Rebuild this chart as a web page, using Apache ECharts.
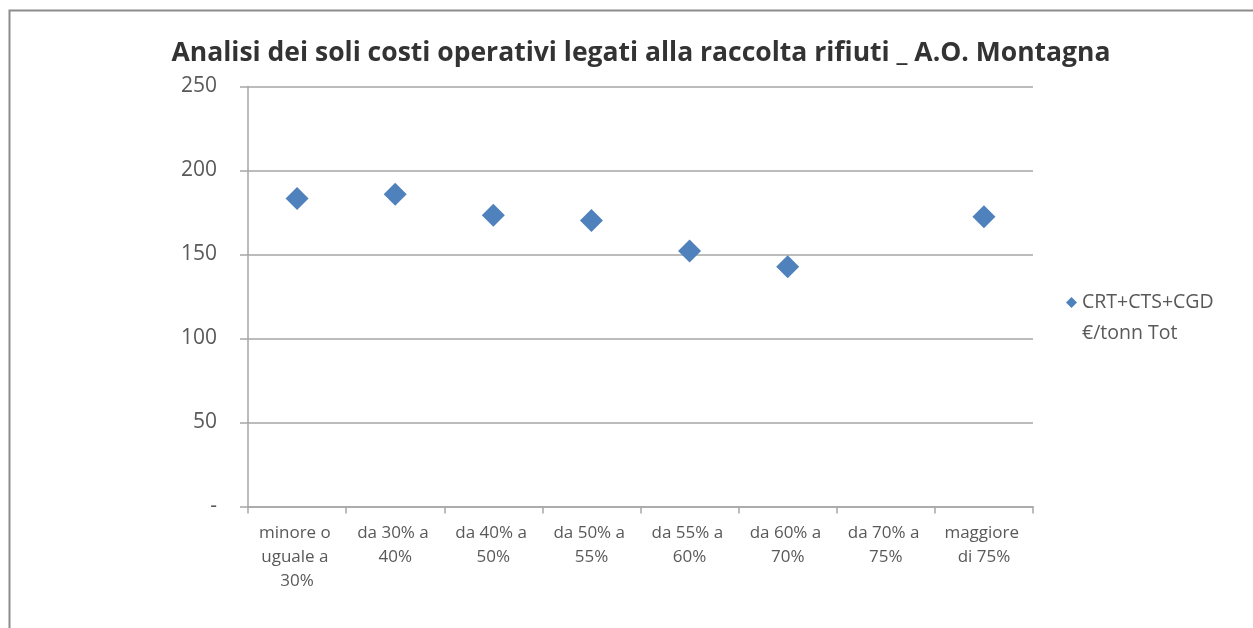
<!DOCTYPE html>
<html>
<head>
<meta charset="utf-8">
<script src="https://cdn.jsdelivr.net/npm/echarts@6/dist/echarts.min.js"></script>
<style>html,body{margin:0;padding:0;background:#fff}#c{width:1253px;height:628px}</style>
</head>
<body>
<div id="c"></div>
<script>
const titleText = 'Analisi dei soli costi operativi legati alla raccolta rifiuti _ A.O. Montagna';
const categories = ['minore o uguale a 30%', 'da 30% a 40%', 'da 40% a 50%', 'da 50% a 55%', 'da 55% a 60%', 'da 60% a 70%', 'da 70% a 75%', 'maggiore di 75%'];
const seriesName = 'CRT+CTS+CGD €/tonn Tot';
const values = [183.4, 185.8, 173.3, 170.3, 152.1, 142.7, null, 172.5];
const yTicks = [0, 50, 100, 150, 200, 250];

const font = '"Open Sans", "Noto Sans", sans-serif';
const chart = echarts.init(document.getElementById('c'));
chart.setOption({
  animation: false,
  backgroundColor: '#fff',
  title: {
    text: titleText,
    left: 636, top: 35, textAlign: 'center',
    textStyle: { fontFamily: font, fontSize: 26.5, fontWeight: 'bold', color: '#333333' }
  },
  graphic: [
    { type: 'polyline', shape: { points: [[9.5, 628], [9.5, 10.5], [1253, 10.5]] }, style: { stroke: '#8c8c8c', lineWidth: 2, fill: null } }
  ],
  legend: {
    orient: 'vertical', left: 1061, top: 251,
    icon: 'diamond', itemWidth: 11, itemHeight: 11, itemGap: 4,
    data: [seriesName],
    formatter: n => '\n' + n.replace(' €', '\n€'),
    textStyle: { fontFamily: font, fontSize: 19.5, color: '#595959', lineHeight: 31 }
  },
  grid: { left: 248, right: 220, top: 86.5, bottom: 121.5, containLabel: false },
  xAxis: {
    type: 'category', data: categories, boundaryGap: true,
    axisLine: { lineStyle: { color: '#a6a6a6', width: 1.5 } },
    axisTick: { show: true, length: 7, inside: false, lineStyle: { color: '#a6a6a6', width: 1.5 }, alignWithLabel: false },
    axisLabel: { interval: 0, margin: 15, fontFamily: font, fontSize: 17, color: '#595959', lineHeight: 24, width: 88, overflow: 'break', align: 'center' },
    splitLine: { show: false }
  },
  yAxis: {
    type: 'value', min: yTicks[0], max: yTicks[yTicks.length - 1], interval: 50,
    axisLine: { show: true, lineStyle: { color: '#a6a6a6', width: 1.5 } },
    axisTick: { show: true, length: 8, lineStyle: { color: '#a6a6a6', width: 1.5 } },
    axisLabel: { margin: 31, fontFamily: font, fontSize: 21, color: '#595959', formatter: v => v === 0 ? '-' : String(v) },
    splitLine: { show: true, lineStyle: { color: '#a6a6a6', width: 1.5 } }
  },
  series: [{
    name: seriesName, type: 'scatter', data: values,
    symbol: 'diamond', symbolSize: 23,
    itemStyle: { color: '#4F81BD', opacity: 1 }
  }]
});
</script>
</body>
</html>
